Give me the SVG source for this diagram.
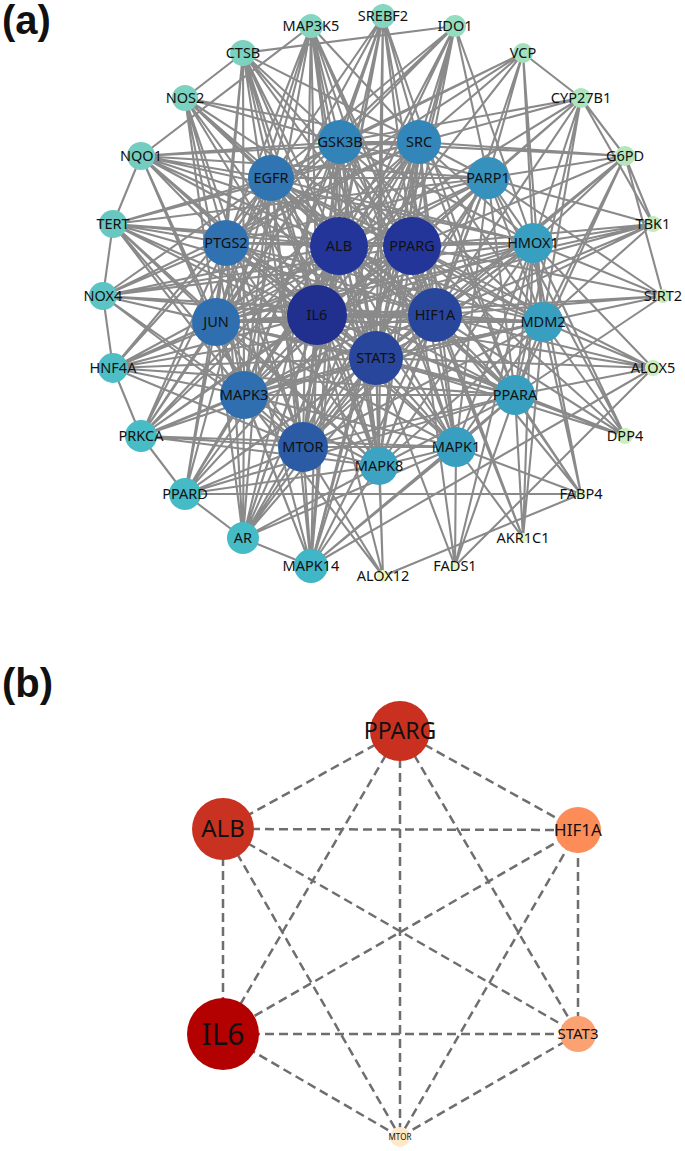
<svg xmlns="http://www.w3.org/2000/svg" width="685" height="1151" viewBox="0 0 685 1151">
<style>
.e{stroke:#8a8a8a;stroke-width:2.1;fill:none}
.d{stroke:#6e6e6e;stroke-width:2.5;fill:none;stroke-dasharray:9 5}
text{font-family:"Noto Sans","Open Sans","DejaVu Sans",sans-serif;fill:#111;text-anchor:middle}
.a text{font-size:14.5px}
.pl{font-family:"Liberation Sans",Arial,sans-serif;font-weight:bold;font-size:40px;text-anchor:start}
</style>
<rect width="685" height="1151" fill="#fff"/>
<text class="pl" x="2" y="34">(a)</text>
<text class="pl" x="2" y="697">(b)</text>
<g id="edges-a" class="e">
<path d="M339 246 412 246M339 246 317 315M339 246 435 315M339 246 376 358M339 246 340 142M339 246 419 142M339 246 488 178M339 246 533 243M339 246 543 322M339 246 515 395M339 246 456 447M339 246 379 466M339 246 303 447M339 246 244 395M339 246 216 322M339 246 226 243M339 246 271 178"/>
<path d="M412 246 317 315M412 246 435 315M412 246 376 358M412 246 340 142M412 246 419 142M412 246 488 178M412 246 533 243M412 246 543 322M412 246 515 395M412 246 456 447M412 246 379 466M412 246 303 447M412 246 244 395M412 246 216 322M412 246 226 243M412 246 271 178"/>
<path d="M317 315 435 315M317 315 376 358M317 315 340 142M317 315 419 142M317 315 488 178M317 315 533 243M317 315 543 322M317 315 515 395M317 315 456 447M317 315 379 466M317 315 303 447M317 315 244 395M317 315 216 322M317 315 226 243M317 315 271 178"/>
<path d="M435 315 376 358M435 315 340 142M435 315 419 142M435 315 488 178M435 315 533 243M435 315 543 322M435 315 515 395M435 315 456 447M435 315 379 466M435 315 303 447M435 315 244 395M435 315 216 322M435 315 226 243M435 315 271 178"/>
<path d="M376 358 340 142M376 358 419 142M376 358 488 178M376 358 533 243M376 358 543 322M376 358 515 395M376 358 456 447M376 358 379 466M376 358 303 447M376 358 244 395M376 358 216 322M376 358 226 243M376 358 271 178"/>
<path d="M340 142 419 142M340 142 488 178M340 142 533 243M340 142 543 322M340 142 515 395M340 142 456 447M340 142 379 466M340 142 303 447M340 142 244 395M340 142 216 322M340 142 226 243M340 142 271 178"/>
<path d="M419 142 488 178M419 142 533 243M419 142 543 322M419 142 515 395M419 142 456 447M419 142 379 466M419 142 303 447M419 142 244 395M419 142 216 322M419 142 226 243M419 142 271 178"/>
<path d="M488 178 533 243M488 178 543 322M488 178 515 395M488 178 456 447M488 178 379 466M488 178 303 447M488 178 244 395M488 178 216 322M488 178 226 243M488 178 271 178"/>
<path d="M533 243 543 322M533 243 515 395M533 243 456 447M533 243 379 466M533 243 303 447M533 243 244 395M533 243 216 322M533 243 226 243M533 243 271 178"/>
<path d="M543 322 515 395M543 322 456 447M543 322 379 466M543 322 303 447M543 322 244 395M543 322 216 322M543 322 226 243M543 322 271 178"/>
<path d="M515 395 456 447M515 395 379 466M515 395 303 447M515 395 244 395M515 395 216 322M515 395 226 243M515 395 271 178"/>
<path d="M456 447 379 466M456 447 303 447M456 447 244 395M456 447 216 322M456 447 226 243M456 447 271 178"/>
<path d="M379 466 303 447M379 466 244 395M379 466 216 322M379 466 226 243M379 466 271 178"/>
<path d="M303 447 244 395M303 447 216 322M303 447 226 243M303 447 271 178M244 395 216 322M244 395 226 243M244 395 271 178M216 322 226 243M216 322 271 178M226 243 271 178"/>
<path d="M383 16 339 246M383 16 317 315M383 16 412 246M383 16 340 142M383 16 419 142M383 16 271 178M383 16 303 447M383 16 376 358M383 16 435 315M383 16 226 243M383 16 216 322M383 16 244 395M383 16 515 395M383 16 379 466"/>
<path d="M455 26 317 315M455 26 339 246M455 26 412 246M455 26 376 358M455 26 419 142M455 26 271 178M455 26 340 142M455 26 533 243M455 26 226 243M455 26 311 566M455 26 243 53M455 26 488 178"/>
<path d="M523 53 419 142M523 53 340 142M523 53 271 178M523 53 488 178M523 53 533 243M523 53 543 322M523 53 435 315M523 53 317 315M523 53 226 243M523 53 581 98"/>
<path d="M581 98 419 142M581 98 340 142M581 98 488 178M581 98 533 243M581 98 543 322M581 98 412 246M581 98 435 315M581 98 625 156M581 98 653 224M581 98 515 395M581 98 339 246"/>
<path d="M625 156 340 142M625 156 488 178M625 156 533 243M625 156 543 322M625 156 419 142M625 156 412 246M625 156 435 315M625 156 663 296M625 156 376 358M625 156 515 395M625 156 653 224"/>
<path d="M653 224 216 322M653 224 533 243M653 224 488 178M653 224 543 322M653 224 376 358M653 224 317 315M653 224 412 246M653 224 435 315"/>
<path d="M663 296 435 315M663 296 543 322M663 296 533 243M663 296 488 178M663 296 412 246M663 296 376 358M663 296 515 395M663 296 216 322"/>
<path d="M653 368 515 395M653 368 543 322M653 368 533 243M653 368 435 315M653 368 376 358M653 368 412 246M653 368 455 566M653 368 311 566M653 368 317 315"/>
<path d="M625 436 515 395M625 436 543 322M625 436 533 243M625 436 435 315M625 436 412 246M625 436 376 358M625 436 488 178M625 436 317 315"/>
<path d="M581 494 185 494M581 494 515 395M581 494 543 322M581 494 533 243M581 494 412 246M581 494 435 315M581 494 456 447"/>
<path d="M523 538 515 395M523 538 543 322M523 538 456 447M523 538 533 243M523 538 435 315M523 538 412 246"/>
<path d="M455 566 515 395M455 566 456 447M455 566 412 246M455 566 376 358M455 566 533 243"/>
<path d="M383 576 379 466M383 576 376 358M383 576 317 315M383 576 303 447M383 576 244 395M383 576 581 494"/>
<path d="M311 566 303 447M311 566 244 395M311 566 379 466M311 566 456 447M311 566 317 315M311 566 376 358M311 566 435 315M311 566 339 246M311 566 216 322M311 566 271 178M311 566 419 142M311 566 243 538M311 566 226 243M311 566 515 395M311 566 340 142"/>
<path d="M243 538 303 447M243 538 244 395M243 538 317 315M243 538 339 246M243 538 376 358M243 538 216 322M243 538 271 178M243 538 226 243M243 538 419 142M243 538 435 315M243 538 456 447M243 538 185 494M243 538 340 142M243 538 412 246M243 538 379 466"/>
<path d="M185 494 244 395M185 494 303 447M185 494 216 322M185 494 317 315M185 494 339 246M185 494 412 246M185 494 376 358M185 494 435 315M185 494 226 243M185 494 271 178M185 494 515 395M185 494 379 466M185 494 141 436"/>
<path d="M141 436 244 395M141 436 216 322M141 436 303 447M141 436 317 315M141 436 339 246M141 436 271 178M141 436 226 243M141 436 376 358M141 436 435 315M141 436 419 142M141 436 340 142M141 436 456 447M141 436 379 466M141 436 113 368M141 436 412 246"/>
<path d="M113 368 216 322M113 368 317 315M113 368 339 246M113 368 412 246M113 368 226 243M113 368 244 395M113 368 303 447M113 368 376 358M113 368 435 315M113 368 271 178M113 368 103 296M113 368 515 395"/>
<path d="M103 296 216 322M103 296 226 243M103 296 317 315M103 296 339 246M103 296 412 246M103 296 271 178M103 296 244 395M103 296 303 447M103 296 435 315M103 296 376 358M103 296 113 224M103 296 419 142M103 296 533 243M103 296 543 322"/>
<path d="M113 224 226 243M113 224 271 178M113 224 216 322M113 224 317 315M113 224 339 246M113 224 412 246M113 224 303 447M113 224 244 395M113 224 376 358M113 224 435 315M113 224 141 156M113 224 419 142M113 224 379 466M113 224 488 178"/>
<path d="M141 156 271 178M141 156 226 243M141 156 340 142M141 156 339 246M141 156 317 315M141 156 412 246M141 156 533 243M141 156 419 142M141 156 216 322M141 156 376 358M141 156 244 395M141 156 488 178M141 156 435 315"/>
<path d="M185 98 271 178M185 98 340 142M185 98 226 243M185 98 339 246M185 98 317 315M185 98 412 246M185 98 216 322M185 98 244 395M185 98 303 447M185 98 376 358M185 98 419 142M185 98 243 53M185 98 435 315"/>
<path d="M243 53 340 142M243 53 271 178M243 53 226 243M243 53 339 246M243 53 317 315M243 53 216 322M243 53 244 395M243 53 303 447M243 53 376 358M243 53 419 142M243 53 412 246M243 53 435 315M243 53 379 466"/>
<path d="M311 26 340 142M311 26 419 142M311 26 271 178M311 26 339 246M311 26 317 315M311 26 216 322M311 26 244 395M311 26 379 466M311 26 303 447M311 26 456 447M311 26 435 315M311 26 376 358M311 26 226 243M311 26 141 156M311 26 412 246"/>
</g>
<g class="a">
<g id="n-SREBF2"><circle cx="383" cy="16" r="12" fill="#84d6c0"/><text x="383" y="16" dy="0.35em">SREBF2</text></g>
<g id="n-IDO1"><circle cx="455" cy="26" r="11" fill="#96dcbf"/><text x="455" y="26" dy="0.35em">IDO1</text></g>
<g id="n-VCP"><circle cx="523" cy="53" r="10" fill="#a3e0bd"/><text x="523" y="53" dy="0.35em">VCP</text></g>
<g id="n-CYP27B1"><circle cx="581" cy="98" r="10" fill="#ade4bc"/><text x="581" y="98" dy="0.35em">CYP27B1</text></g>
<g id="n-G6PD"><circle cx="625" cy="156" r="10" fill="#b4e6bc"/><text x="625" y="156" dy="0.35em">G6PD</text></g>
<g id="n-TBK1"><circle cx="653" cy="224" r="8" fill="#c3eabc"/><text x="653" y="224" dy="0.35em">TBK1</text></g>
<g id="n-SIRT2"><circle cx="663" cy="296" r="7" fill="#c8ecbc"/><text x="663" y="296" dy="0.35em">SIRT2</text></g>
<g id="n-ALOX5"><circle cx="653" cy="368" r="8" fill="#cbeebc"/><text x="653" y="368" dy="0.35em">ALOX5</text></g>
<g id="n-DPP4"><circle cx="625" cy="436" r="8" fill="#ceefbc"/><text x="625" y="436" dy="0.35em">DPP4</text></g>
<g id="n-FABP4"><circle cx="581" cy="494" r="5" fill="#e2f5bb"/><text x="581" y="494" dy="0.35em">FABP4</text></g>
<g id="n-AKR1C1"><circle cx="523" cy="538" r="5" fill="#e7f6bb"/><text x="523" y="538" dy="0.35em">AKR1C1</text></g>
<g id="n-FADS1"><circle cx="455" cy="566" r="5" fill="#eaf7bb"/><text x="455" y="566" dy="0.35em">FADS1</text></g>
<g id="n-ALOX12"><circle cx="383" cy="576" r="6" fill="#edf8bb"/><text x="383" y="576" dy="0.35em">ALOX12</text></g>
<g id="n-MAPK14"><circle cx="311" cy="566" r="17" fill="#41b6c6"/><text x="311" y="566" dy="0.35em">MAPK14</text></g>
<g id="n-AR"><circle cx="243" cy="538" r="16" fill="#45bbc6"/><text x="243" y="538" dy="0.35em">AR</text></g>
<g id="n-PPARD"><circle cx="185" cy="494" r="16" fill="#45bbc6"/><text x="185" y="494" dy="0.35em">PPARD</text></g>
<g id="n-PRKCA"><circle cx="141" cy="436" r="16" fill="#47bcc6"/><text x="141" y="436" dy="0.35em">PRKCA</text></g>
<g id="n-HNF4A"><circle cx="113" cy="368" r="15" fill="#4dbec5"/><text x="113" y="368" dy="0.35em">HNF4A</text></g>
<g id="n-NOX4"><circle cx="103" cy="296" r="14" fill="#5cc4c3"/><text x="103" y="296" dy="0.35em">NOX4</text></g>
<g id="n-TERT"><circle cx="113" cy="224" r="14" fill="#68c8c1"/><text x="113" y="224" dy="0.35em">TERT</text></g>
<g id="n-NQO1"><circle cx="141" cy="156" r="14" fill="#74cdc0"/><text x="141" y="156" dy="0.35em">NQO1</text></g>
<g id="n-NOS2"><circle cx="185" cy="98" r="13" fill="#7cd2c0"/><text x="185" y="98" dy="0.35em">NOS2</text></g>
<g id="n-CTSB"><circle cx="243" cy="53" r="13" fill="#7cd2c0"/><text x="243" y="53" dy="0.35em">CTSB</text></g>
<g id="n-MAP3K5"><circle cx="311" cy="26" r="12" fill="#84d6c0"/><text x="311" y="26" dy="0.35em">MAP3K5</text></g>
<g id="n-GSK3B"><circle cx="340" cy="142" r="22" fill="#3183b8"/><text x="340" y="142" dy="0.35em">GSK3B</text></g>
<g id="n-SRC"><circle cx="419" cy="142" r="22" fill="#3286b9"/><text x="419" y="142" dy="0.35em">SRC</text></g>
<g id="n-PARP1"><circle cx="488" cy="178" r="21" fill="#3691bd"/><text x="488" y="178" dy="0.35em">PARP1</text></g>
<g id="n-HMOX1"><circle cx="533" cy="243" r="20" fill="#399fc1"/><text x="533" y="243" dy="0.35em">HMOX1</text></g>
<g id="n-MDM2"><circle cx="543" cy="322" r="20" fill="#399fc1"/><text x="543" y="322" dy="0.35em">MDM2</text></g>
<g id="n-PPARA"><circle cx="515" cy="395" r="20" fill="#399fc1"/><text x="515" y="395" dy="0.35em">PPARA</text></g>
<g id="n-MAPK1"><circle cx="456" cy="447" r="20" fill="#399fc1"/><text x="456" y="447" dy="0.35em">MAPK1</text></g>
<g id="n-MAPK8"><circle cx="379" cy="466" r="19" fill="#3ca3c2"/><text x="379" y="466" dy="0.35em">MAPK8</text></g>
<g id="n-MTOR"><circle cx="303" cy="447" r="25" fill="#2b5ba5"/><text x="303" y="447" dy="0.35em">MTOR</text></g>
<g id="n-MAPK3"><circle cx="244" cy="395" r="24" fill="#2f6fb0"/><text x="244" y="395" dy="0.35em">MAPK3</text></g>
<g id="n-JUN"><circle cx="216" cy="322" r="24" fill="#2f6fb0"/><text x="216" y="322" dy="0.35em">JUN</text></g>
<g id="n-PTGS2"><circle cx="226" cy="243" r="23" fill="#3072b1"/><text x="226" y="243" dy="0.35em">PTGS2</text></g>
<g id="n-EGFR"><circle cx="271" cy="178" r="23" fill="#3074b2"/><text x="271" y="178" dy="0.35em">EGFR</text></g>
<g id="n-ALB"><circle cx="339" cy="246" r="29" fill="#243599"/><text x="339" y="246" dy="0.35em">ALB</text></g>
<g id="n-PPARG"><circle cx="412" cy="246" r="29" fill="#243599"/><text x="412" y="246" dy="0.35em">PPARG</text></g>
<g id="n-IL6"><circle cx="317" cy="315" r="30" fill="#212f8f"/><text x="317" y="315" dy="0.35em">IL6</text></g>
<g id="n-HIF1A"><circle cx="435" cy="315" r="27" fill="#28469c"/><text x="435" y="315" dy="0.35em">HIF1A</text></g>
<g id="n-STAT3"><circle cx="376" cy="358" r="27" fill="#28469c"/><text x="376" y="358" dy="0.35em">STAT3</text></g>
</g>
<g id="edges-b" class="d">
<path d="M400 731 223 829M400 731 578 830M400 731 223 1034M400 731 400 1137M400 731 578 1034M223 829 578 830M223 829 223 1034M223 829 578 1034M223 829 400 1137M578 830 223 1034M578 830 400 1137M578 830 578 1034M223 1034 578 1034M223 1034 400 1137M578 1034 400 1137"/>
</g>
<g id="b-PPARG"><circle cx="400" cy="731" r="30" fill="#c9301f"/><text x="400" y="731" dy="0.35em" font-size="23">PPARG</text></g>
<g id="b-ALB"><circle cx="223" cy="829" r="31" fill="#c93220"/><text x="223" y="829" dy="0.35em" font-size="24">ALB</text></g>
<g id="b-HIF1A"><circle cx="578" cy="830" r="23" fill="#fc8d59"/><text x="578" y="830" dy="0.35em" font-size="17">HIF1A</text></g>
<g id="b-IL6"><circle cx="223" cy="1034" r="36" fill="#b30000"/><text x="223" y="1034" dy="0.35em" font-size="30">IL6</text></g>
<g id="b-STAT3"><circle cx="578" cy="1034" r="18" fill="#fca272"/><text x="578" y="1034" dy="0.35em" font-size="15">STAT3</text></g>
<g id="b-MTOR"><circle cx="400" cy="1137" r="10" fill="#fee8c8"/><text x="400" y="1137" dy="0.35em" font-size="8">MTOR</text></g>
</svg>
